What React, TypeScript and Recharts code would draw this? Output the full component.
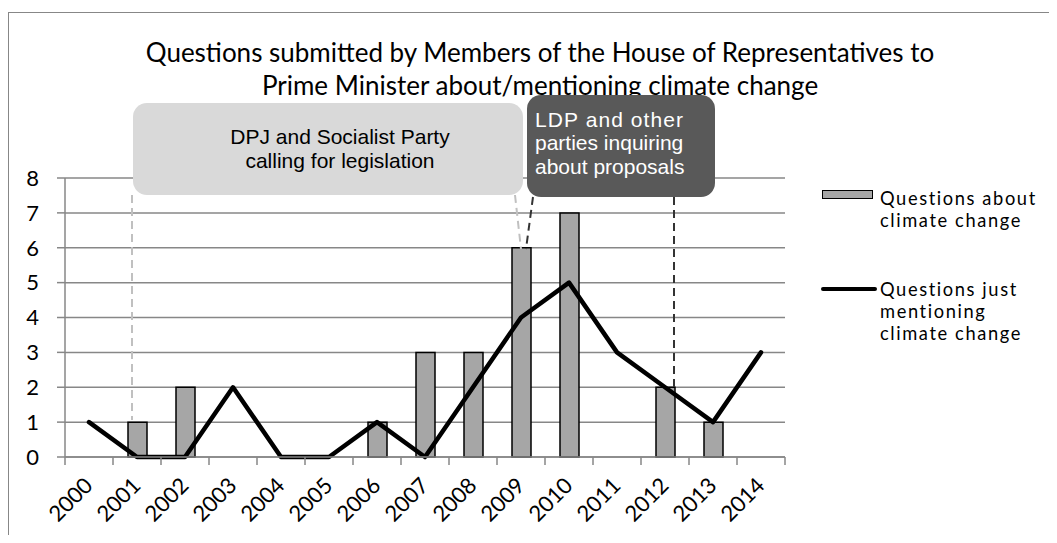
import React from 'react';
import { ComposedChart, Bar, Line, XAxis, YAxis, CartesianGrid, Legend } from 'recharts';

const years = ['2000', '2001', '2002', '2003', '2004', '2005', '2006', '2007', '2008', '2009', '2010', '2011', '2012', '2013', '2014'];
const questionsAbout = [0, 1, 2, 0, 0, 0, 1, 3, 3, 6, 7, 0, 2, 1, 0];
const questionsMentioning = [1, 0, 0, 2, 0, 0, 1, 0, 2, 4, 5, 3, 2, 1, 3];
const yTicks = [0, 1, 2, 3, 4, 5, 6, 7, 8];

const titleLines = [
  'Questions submitted by Members of the House of Representatives to',
  'Prime Minister about/mentioning climate change',
];
const seriesNames = ['Questions about climate change', 'Questions just mentioning climate change'];
const legendLines = [
  ['Questions about', 'climate change'],
  ['Questions just', 'mentioning', 'climate change'],
];

const data = years.map((y, i) => ({ year: y, about: questionsAbout[i], mention: questionsMentioning[i] }));

const W = 1049;
const H = 527;
const M = { top: 170, right: 272, bottom: 18, left: 0 };
const YW = 57;
const XH = 60;
const PLOT_W = W - M.left - M.right - YW;
const HALF = PLOT_W / years.length / 2;
const GRID = '#878787';
const FONT = 'Lato, "Noto Sans", sans-serif';
const ARIAL = '"Liberation Sans", Arial, sans-serif';

const XTick = (props: any) => {
  const { x, y, payload, index } = props;
  const ay = y;
  const lx = x + 5;
  const ly = ay + 30;
  return (
    <g>
      <line x1={x - HALF} y1={ay} x2={x - HALF} y2={ay + 8} stroke={GRID} strokeWidth={1.5} />
      {index === years.length - 1 && (
        <line x1={x + HALF} y1={ay} x2={x + HALF} y2={ay + 8} stroke={GRID} strokeWidth={1.5} />
      )}
      <text x={lx} y={ly} textAnchor="end" transform={`rotate(-45 ${lx} ${ly})`} fontFamily={FONT} fontSize={22} fill="#000">
        {payload.value}
      </text>
    </g>
  );
};

const LF = 18.3;
const lineStyle: React.CSSProperties = { height: 22, lineHeight: '22px', whiteSpace: 'nowrap', fontFamily: FONT, fontSize: LF, letterSpacing: 1.6, color: '#000' };
const LegendContent = () => (
  <div style={{ position: 'relative', width: 240, height: 170 }}>
    <div style={{ position: 'absolute', left: 2, top: 10, width: 51, height: 9, boxSizing: 'border-box', border: '1px solid #000', background: '#a6a6a6' }} />
    <div style={{ position: 'absolute', left: 60, top: 6.5 }}>
      {legendLines[0].map((l, i) => (
        <div key={i} style={lineStyle}>{l}</div>
      ))}
    </div>
    <div style={{ position: 'absolute', left: 1, top: 106.75, width: 56, height: 4.5, borderRadius: 2.25, background: '#000' }} />
    <div style={{ position: 'absolute', left: 60, top: 97.5 }}>
      {legendLines[1].map((l, i) => (
        <div key={i} style={lineStyle}>{l}</div>
      ))}
    </div>
  </div>
);

export default function App() {
  return (
    <div style={{ position: 'relative', width: W, height: H }}>
      <div style={{ position: 'absolute', left: 0, top: 4, width: W, height: 531, borderTop: `1.5px solid ${GRID}`, borderLeft: `1.5px solid ${GRID}`, boxSizing: 'border-box' }} />
      <ComposedChart width={W} height={H} data={data} margin={M}>
        <CartesianGrid vertical={false} stroke={GRID} strokeWidth={1.5} />
        <XAxis
          dataKey="year"
          interval={0}
          height={XH}
          tickLine={false}
          tickSize={0}
          tickMargin={0}
          axisLine={{ stroke: GRID, strokeWidth: 1.5 }}
          tick={<XTick />}
        />
        <YAxis
          width={YW}
          domain={[0, 8]}
          ticks={yTicks}
          interval={0}
          tickSize={8}
          tickMargin={18}
          tickLine={{ stroke: GRID, strokeWidth: 1.5 }}
          axisLine={{ stroke: GRID, strokeWidth: 1.5 }}
          tick={{ fill: '#000', fontFamily: FONT, fontSize: 22 }}
        />
        <Legend
          layout="horizontal"
          verticalAlign="middle"
          align="center"
          wrapperStyle={{ position: 'absolute', left: 812, top: 172, width: 240, height: 170 }}
          content={<LegendContent />}
        />
        <Bar dataKey="about" name={seriesNames[0]} barSize={19} fill="#a6a6a6" stroke="#000" strokeWidth={1.5} isAnimationActive={false} />
        <Line dataKey="mention" name={seriesNames[1]} type="linear" stroke="#000" strokeWidth={4.5} dot={false} activeDot={false} strokeLinejoin="round" strokeLinecap="round" isAnimationActive={false} />
      </ComposedChart>
      <svg width={W} height={H} style={{ position: 'absolute', left: 0, top: 0, pointerEvents: 'none', overflow: 'visible' }}>
        <text x={532} y={54} textAnchor="middle" fontFamily={FONT} fontSize={26} fill="#000">{titleLines[0]}</text>
        <text x={532} y={87} textAnchor="middle" fontFamily={FONT} fontSize={26} fill="#000">{titleLines[1]}</text>
        <rect x={125} y={95} width={390} height={92} rx={14} fill="#d9d9d9" />
        <text x={332} y={136} textAnchor="middle" fontFamily={ARIAL} fontSize={21} fill="#000">DPJ and Socialist Party</text>
        <text x={332} y={160} textAnchor="middle" fontFamily={ARIAL} fontSize={21} fill="#000">calling for legislation</text>
        <rect x={519} y={87} width={188} height={102} rx={14} fill="#595959" />
        <text x={527} y={119} fontFamily={ARIAL} fontSize={21} fill="#fff" textLength={148} lengthAdjust="spacing">LDP and other</text>
        <text x={527} y={142} fontFamily={ARIAL} fontSize={21} fill="#fff">parties inquiring</text>
        <text x={527} y={166} fontFamily={ARIAL} fontSize={21} fill="#fff">about proposals</text>
        <line x1={124} y1={187} x2={124} y2={412} stroke="#c0c0c0" strokeWidth={2} strokeDasharray="8 5" />
        <line x1={507} y1={187} x2={513} y2={241} stroke="#c0c0c0" strokeWidth={2} strokeDasharray="8 5" />
        <line x1={525} y1={189} x2={518} y2={241} stroke="#333" strokeWidth={2} strokeDasharray="8 5" />
        <line x1={666} y1={189} x2={666} y2={380} stroke="#333" strokeWidth={2} strokeDasharray="8 5" />
      </svg>
    </div>
  );
}
